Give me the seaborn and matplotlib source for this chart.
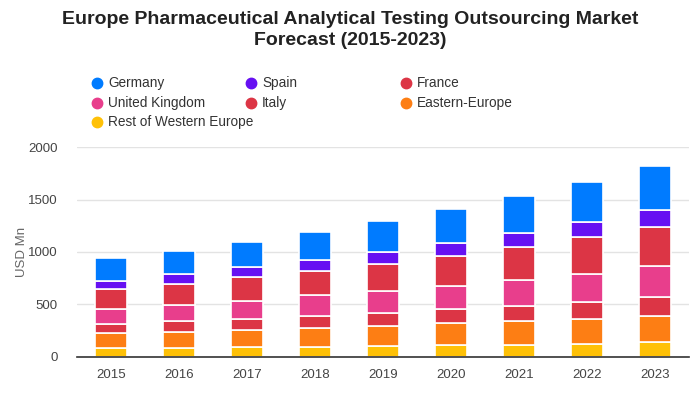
import matplotlib.pyplot as plt
import matplotlib
import numpy as np
import seaborn as sns

years = ['2015', '2016', '2017', '2018', '2019', '2020', '2021', '2022', '2023']

# stacked from the bottom up
rest_western = [88, 88, 95, 95, 107, 117, 117, 126, 139]
eastern_europe = [143, 152, 164, 183, 190, 202, 227, 237, 253]
italy = [85, 104, 104, 114, 123, 139, 143, 162, 183]
united_kingdom = [142, 155, 171, 193, 209, 218, 246, 265, 291]
france = [190, 196, 228, 233, 256, 285, 313, 351, 370]
spain = [76, 95, 94, 105, 114, 123, 133, 142, 161]
germany = [214, 224, 244, 271, 297, 325, 354, 382, 423]

SERIES = [
    ('Rest of Western Europe', rest_western, '#FFC107'),
    ('Eastern-Europe', eastern_europe, '#FD7E14'),
    ('Italy', italy, '#DC3545'),
    ('United Kingdom', united_kingdom, '#E83E8C'),
    ('France', france, '#DC3545'),
    ('Spain', spain, '#6610F2'),
    ('Germany', germany, '#007BFF'),
]
LEGEND_ORDER = ['Germany', 'Spain', 'France', 'United Kingdom', 'Italy',
                'Eastern-Europe', 'Rest of Western Europe']

sns.set_style('white')
plt.rcParams['font.family'] = ['Liberation Sans', 'DejaVu Sans']

fig = plt.figure(figsize=(7, 4), dpi=100)
ax = fig.add_axes([0.11, 0.108, 0.874, 0.524])

bottom = np.zeros(len(years))
for name, vals, col in SERIES:
    sns.barplot(x=years, y=vals, bottom=bottom, color=col, width=0.47, saturation=1,
                edgecolor='white', linewidth=1.2, ax=ax, zorder=3)
    bottom = bottom + np.array(vals)

ax.set_ylim(0, 2000)
ax.set_yticks([0, 500, 1000, 1500, 2000])
ax.yaxis.grid(True, color='#e3e3e3', linewidth=1, zorder=0)
ax.set_axisbelow(True)
for s in ['top', 'right', 'left']:
    ax.spines[s].set_visible(False)
ax.spines['bottom'].set_color('#333333')
ax.spines['bottom'].set_linewidth(1.2)
ax.spines['bottom'].set_zorder(4)
ax.tick_params(axis='both', length=0, labelsize=9.5, colors='#444444')
ax.tick_params(axis='y', pad=14)
ax.tick_params(axis='x', pad=9)
ax.set_ylabel('USD Mn', fontsize=9.5, color='#666666', labelpad=0)
ax.set_xlabel('')

fig.text(0.5, 0.972, 'Europe Pharmaceutical Analytical Testing Outsourcing Market\nForecast (2015-2023)',
         ha='center', va='top', fontsize=14, fontweight='bold', color='#222222',
         linespacing=1.3)

colors = {name: col for name, _, col in SERIES}
col_x = [97, 251, 406]
row_y = [83, 103, 122]
for i, name in enumerate(LEGEND_ORDER):
    x = col_x[i % 3] / 700
    y = 1 - row_y[i // 3] / 400
    fig.add_artist(plt.Line2D([x], [y], marker='o', markersize=7.5, linestyle='',
                              color=colors[name], transform=fig.transFigure))
    fig.text(x + 11 / 700, y, name, va='center', ha='left', fontsize=9.8, color='#333333')

fig.savefig('out.png', dpi=100)
